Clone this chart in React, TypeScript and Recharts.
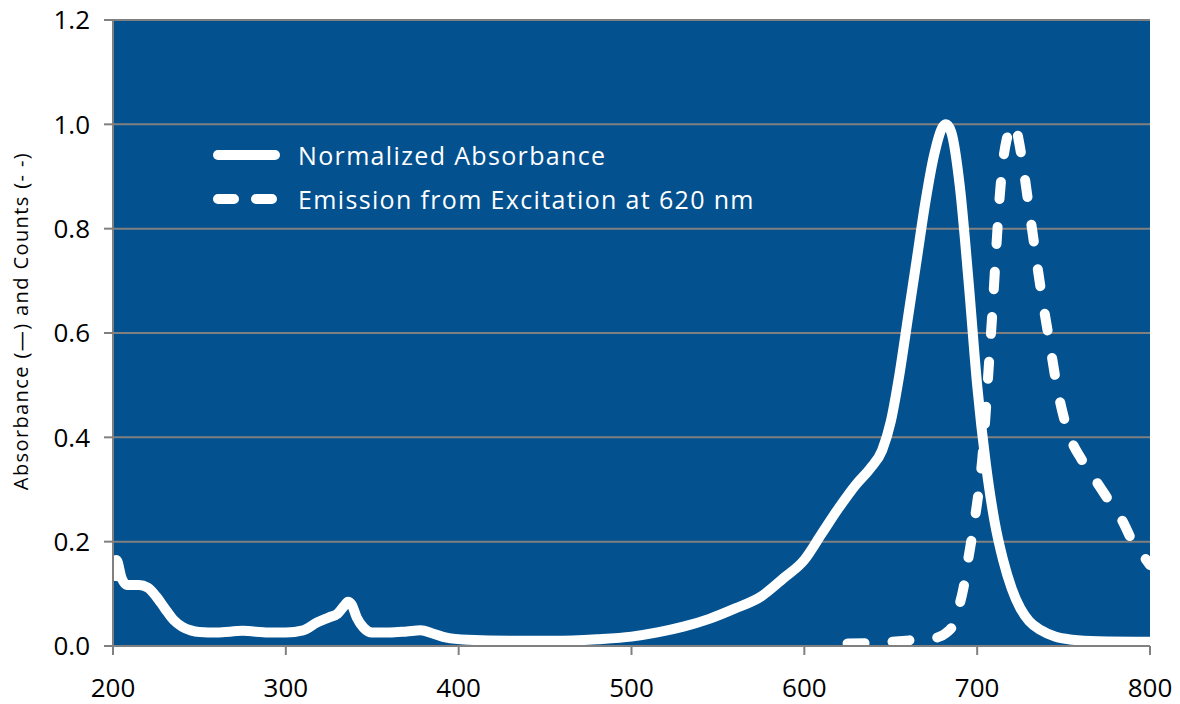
import React from 'react';
import { LineChart, Line, XAxis, YAxis, CartesianGrid, Label } from 'recharts';

const absorbanceWavelengths = [200, 202, 205, 208, 215, 220, 225, 230, 235, 240, 245, 250, 260, 275, 290, 300, 310, 318, 325, 330, 334, 336, 338, 341, 345, 350, 360, 370, 378, 385, 393, 405, 430, 455, 480, 500, 515, 530, 545, 560, 575, 588, 600, 610, 620, 630, 638, 645, 650, 655, 660, 665, 670, 675, 680, 682, 685, 690, 695, 700, 705, 710, 715, 720, 725, 730, 737, 745, 755, 770, 800];
const absorbanceValues = [0.125, 0.165, 0.13, 0.117, 0.117, 0.112, 0.095, 0.072, 0.05, 0.037, 0.03, 0.027, 0.026, 0.029, 0.026, 0.026, 0.03, 0.045, 0.055, 0.062, 0.078, 0.085, 0.08, 0.055, 0.035, 0.026, 0.026, 0.028, 0.03, 0.024, 0.016, 0.012, 0.01, 0.01, 0.013, 0.018, 0.026, 0.037, 0.052, 0.072, 0.095, 0.13, 0.165, 0.215, 0.265, 0.31, 0.34, 0.375, 0.43, 0.52, 0.63, 0.74, 0.85, 0.94, 0.995, 1.0, 0.985, 0.88, 0.7, 0.5, 0.35, 0.24, 0.165, 0.11, 0.072, 0.048, 0.03, 0.018, 0.012, 0.009, 0.008];

const emissionWavelengths = [625, 640, 650, 665, 675, 682, 686, 689, 692, 695, 698, 701, 703, 705, 707, 709, 711, 713, 715, 717, 720, 722, 724, 727, 730, 733, 737, 742, 746, 750, 755, 760, 766, 772, 778, 784, 790, 795, 800];
const emissionValues = [0.005, 0.006, 0.008, 0.012, 0.015, 0.025, 0.04, 0.07, 0.11, 0.17, 0.23, 0.3, 0.36, 0.45, 0.55, 0.65, 0.76, 0.86, 0.93, 0.97, 0.995, 1.0, 0.97, 0.91, 0.84, 0.77, 0.68, 0.58, 0.5, 0.44, 0.39, 0.36, 0.33, 0.3, 0.27, 0.24, 0.2, 0.178, 0.155];

const xTicks = [200, 300, 400, 500, 600, 700, 800];
const yTicks = [0, 0.2, 0.4, 0.6, 0.8, 1.0, 1.2];

const seriesNames = ['Normalized Absorbance', 'Emission from Excitation at 620 nm'];
const yAxisTitle = 'Absorbance (\u2014) and Counts (- -)';

const absorbanceData = absorbanceWavelengths.map((x, i) => ({ x, y: absorbanceValues[i] }));
const emissionData = emissionWavelengths.map((x, i) => ({ x, y: emissionValues[i] }));

const FONT = '"Open Sans", sans-serif';

const LegendBox = () => (
  <div
    style={{
      position: 'absolute',
      left: 207,
      top: 133,
      fontFamily: FONT,
      fontSize: 25,
      letterSpacing: 1.35,
      color: '#fff',
      lineHeight: '44px',
      whiteSpace: 'nowrap',
    }}
  >
    <div style={{ display: 'flex', alignItems: 'center' }}>
      <svg width={91} height={20}>
        <line x1={11} y1={10} x2={68} y2={10} stroke="#fff" strokeWidth={10} strokeLinecap="round" />
      </svg>
      <span>{seriesNames[0]}</span>
    </div>
    <div style={{ display: 'flex', alignItems: 'center' }}>
      <svg width={91} height={20}>
        <line x1={11} y1={10} x2={74} y2={10} stroke="#fff" strokeWidth={10} strokeLinecap="round" strokeDasharray="16 22" />
      </svg>
      <span>{seriesNames[1]}</span>
    </div>
  </div>
);

export default function App() {
  return (
    <div style={{ position: 'fixed', left: 0, top: 0, width: 1180, height: 704, background: '#fff' }}>
      <LineChart width={1180} height={704} margin={{ top: 20, right: 30, left: 0, bottom: 0 }}>
        <CartesianGrid fill="#03518F" stroke="#808080" strokeWidth={2} vertical={false} />
        <XAxis
          type="number"
          dataKey="x"
          domain={[200, 800]}
          ticks={xTicks}
          height={58}
          stroke="#808080"
          strokeWidth={2}
          tickSize={9}
          tick={{ fill: '#000', fontSize: 26, fontFamily: FONT, dy: 22 }}
          allowDataOverflow
        />
        <YAxis
          type="number"
          domain={[0, 1.2]}
          ticks={yTicks}
          width={113}
          stroke="#808080"
          strokeWidth={2}
          tickSize={9}
          tickFormatter={(v: number) => v.toFixed(1)}
          tick={{ fill: '#000', fontSize: 26, fontFamily: FONT, dx: -12 }}
        >
          <Label
            value={yAxisTitle}
            angle={-90}
            position="insideLeft"
            offset={21}
            dy={-12}
            style={{ fill: '#000', fontSize: 20, fontFamily: FONT, textAnchor: 'middle', letterSpacing: 1.4 }}
          />
        </YAxis>
        <Line
          data={absorbanceData}
          dataKey="y"
          name={seriesNames[0]}
          type="monotone"
          stroke="#fff"
          strokeWidth={10}
          dot={false}
          isAnimationActive={false}
        />
        <Line
          data={emissionData}
          dataKey="y"
          name={seriesNames[1]}
          type="monotone"
          stroke="#fff"
          strokeWidth={10}
          strokeDasharray="17 28"
          strokeLinecap="round"
          dot={false}
          isAnimationActive={false}
        />
      </LineChart>
      <LegendBox />
    </div>
  );
}
